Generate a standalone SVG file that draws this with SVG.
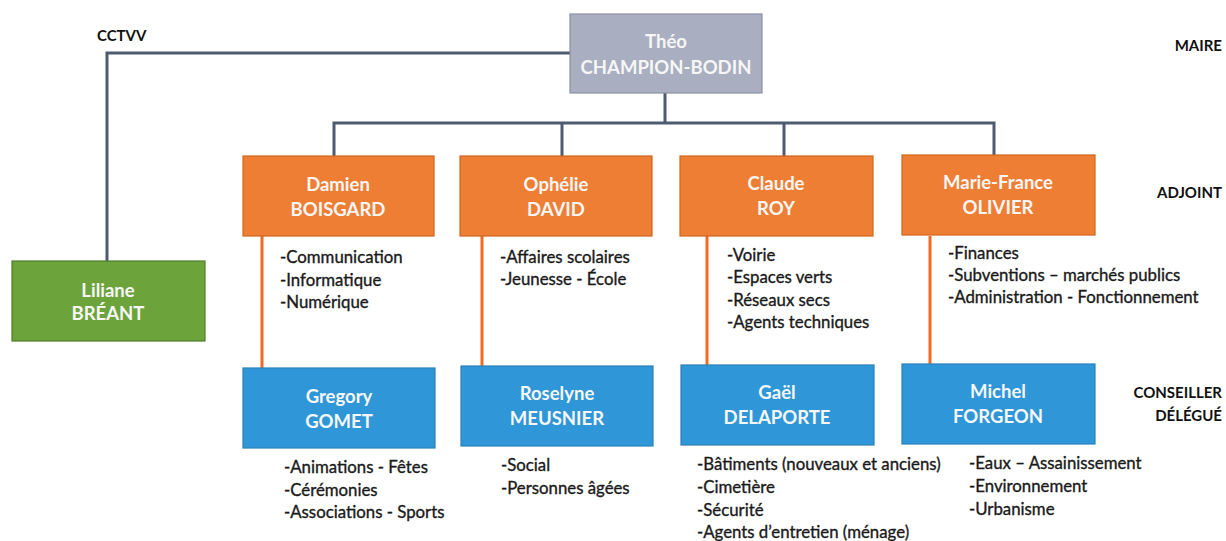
<svg xmlns="http://www.w3.org/2000/svg" width="1226" height="541" viewBox="0 0 1226 541">
  <style>
    .box { stroke-width: 1.2; }
    .maire { fill: #a9aec0; stroke: #8c90a2; }
    .adjoint { fill: #ef7e35; stroke: #d0651c; }
    .conseiller { fill: #2f97d8; stroke: #2a80ba; }
    .cctvv { fill: #6ca33b; stroke: #4f7d2b; }
    .name { font-family: Lato, "Liberation Sans", sans-serif; font-weight: bold; font-size: 18.5px; fill: #f6f6f6; text-anchor: middle; }
    .list { font-family: Lato, "Liberation Sans", sans-serif; font-size: 16.8px; fill: #1a1a1a; stroke: #1a1a1a; stroke-width: 0.35; }
    .role { font-family: Lato, "Liberation Sans", sans-serif; font-weight: bold; font-size: 15px; fill: #111; }
    .right { text-anchor: end; }
    .link { fill: none; stroke: #4e5a70; stroke-width: 3; }
    .sub { fill: none; stroke: #f26a22; stroke-width: 3; }
  </style>

  <!-- hierarchy connectors -->
  <g id="connectors">
    <polyline class="link" points="570,53 107,53 107,261"/>
    <polyline class="link" points="665,93 665,123"/>
    <polyline class="link" points="334,156 334,123 994,123 994,156"/>
    <line class="link" x1="562" y1="123" x2="562" y2="156"/>
    <line class="link" x1="784" y1="123" x2="784" y2="156"/>
    <line class="sub" x1="262" y1="236" x2="262" y2="368"/>
    <line class="sub" x1="482" y1="236" x2="482" y2="366"/>
    <line class="sub" x1="707" y1="236" x2="707" y2="365"/>
    <line class="sub" x1="930" y1="236" x2="930" y2="364"/>
  </g>

  <!-- level labels -->
  <g id="labels">
    <text class="role" x="97" y="41">CCTVV</text>
    <text class="role right" x="1222" y="51">MAIRE</text>
    <text class="role right" x="1222" y="198">ADJOINT</text>
    <text class="role right" x="1222" y="398">CONSEILLER</text>
    <text class="role right" x="1222" y="421">DÉLÉGUÉ</text>
  </g>

  <g id="node-maire">
    <rect class="box maire" x="570" y="14" width="192" height="79"/>
    <text class="name" x="666" y="48">Théo</text>
    <text class="name" x="666" y="74">CHAMPION-BODIN</text>
  </g>

  <g id="node-breant">
    <rect class="box cctvv" x="12" y="261" width="193" height="80"/>
    <text class="name" x="108" y="297">Liliane</text>
    <text class="name" x="108" y="320">BRÉANT</text>
  </g>

  <g id="node-boisgard">
    <rect class="box adjoint" x="243" y="156" width="191" height="80"/>
    <text class="name" x="338" y="191">Damien</text>
    <text class="name" x="338" y="216">BOISGARD</text>
    <text class="list" x="280" y="263">-Communication</text>
    <text class="list" x="280" y="286">-Informatique</text>
    <text class="list" x="280" y="308">-Numérique</text>
  </g>

  <g id="node-david">
    <rect class="box adjoint" x="460" y="156" width="192" height="80"/>
    <text class="name" x="556" y="191">Ophélie</text>
    <text class="name" x="556" y="216">DAVID</text>
    <text class="list" x="500" y="263">-Affaires scolaires</text>
    <text class="list" x="500" y="285">-Jeunesse - École</text>
  </g>

  <g id="node-roy">
    <rect class="box adjoint" x="680" y="156" width="193" height="80"/>
    <text class="name" x="776" y="190">Claude</text>
    <text class="name" x="776" y="215">ROY</text>
    <text class="list" x="727" y="261">-Voirie</text>
    <text class="list" x="727" y="283">-Espaces verts</text>
    <text class="list" x="727" y="306">-Réseaux secs</text>
    <text class="list" x="727" y="328">-Agents techniques</text>
  </g>

  <g id="node-olivier">
    <rect class="box adjoint" x="902" y="155" width="193" height="80"/>
    <text class="name" x="998" y="189">Marie-France</text>
    <text class="name" x="998" y="214">OLIVIER</text>
    <text class="list" x="948" y="259">-Finances</text>
    <text class="list" x="948" y="281">-Subventions – marchés publics</text>
    <text class="list" x="948" y="303">-Administration - Fonctionnement</text>
  </g>

  <g id="node-gomet">
    <rect class="box conseiller" x="243" y="368" width="192" height="80"/>
    <text class="name" x="339" y="403">Gregory</text>
    <text class="name" x="339" y="428">GOMET</text>
    <text class="list" x="284" y="473">-Animations - Fêtes</text>
    <text class="list" x="284" y="496">-Cérémonies</text>
    <text class="list" x="284" y="518">-Associations - Sports</text>
  </g>

  <g id="node-meusnier">
    <rect class="box conseiller" x="461" y="366" width="192" height="80"/>
    <text class="name" x="557" y="400">Roselyne</text>
    <text class="name" x="557" y="425">MEUSNIER</text>
    <text class="list" x="501" y="471">-Social</text>
    <text class="list" x="501" y="494">-Personnes âgées</text>
  </g>

  <g id="node-delaporte">
    <rect class="box conseiller" x="681" y="365" width="193" height="80"/>
    <text class="name" x="777" y="399">Gaël</text>
    <text class="name" x="777" y="424">DELAPORTE</text>
    <text class="list" x="697" y="470">-Bâtiments (nouveaux et anciens)</text>
    <text class="list" x="697" y="493">-Cimetière</text>
    <text class="list" x="697" y="516">-Sécurité</text>
    <text class="list" x="697" y="538">-Agents d’entretien (ménage)</text>
  </g>

  <g id="node-forgeon">
    <rect class="box conseiller" x="902" y="364" width="193" height="80"/>
    <text class="name" x="998" y="398">Michel</text>
    <text class="name" x="998" y="423">FORGEON</text>
    <text class="list" x="969" y="469">-Eaux – Assainissement</text>
    <text class="list" x="969" y="492">-Environnement</text>
    <text class="list" x="969" y="515">-Urbanisme</text>
  </g>
</svg>
